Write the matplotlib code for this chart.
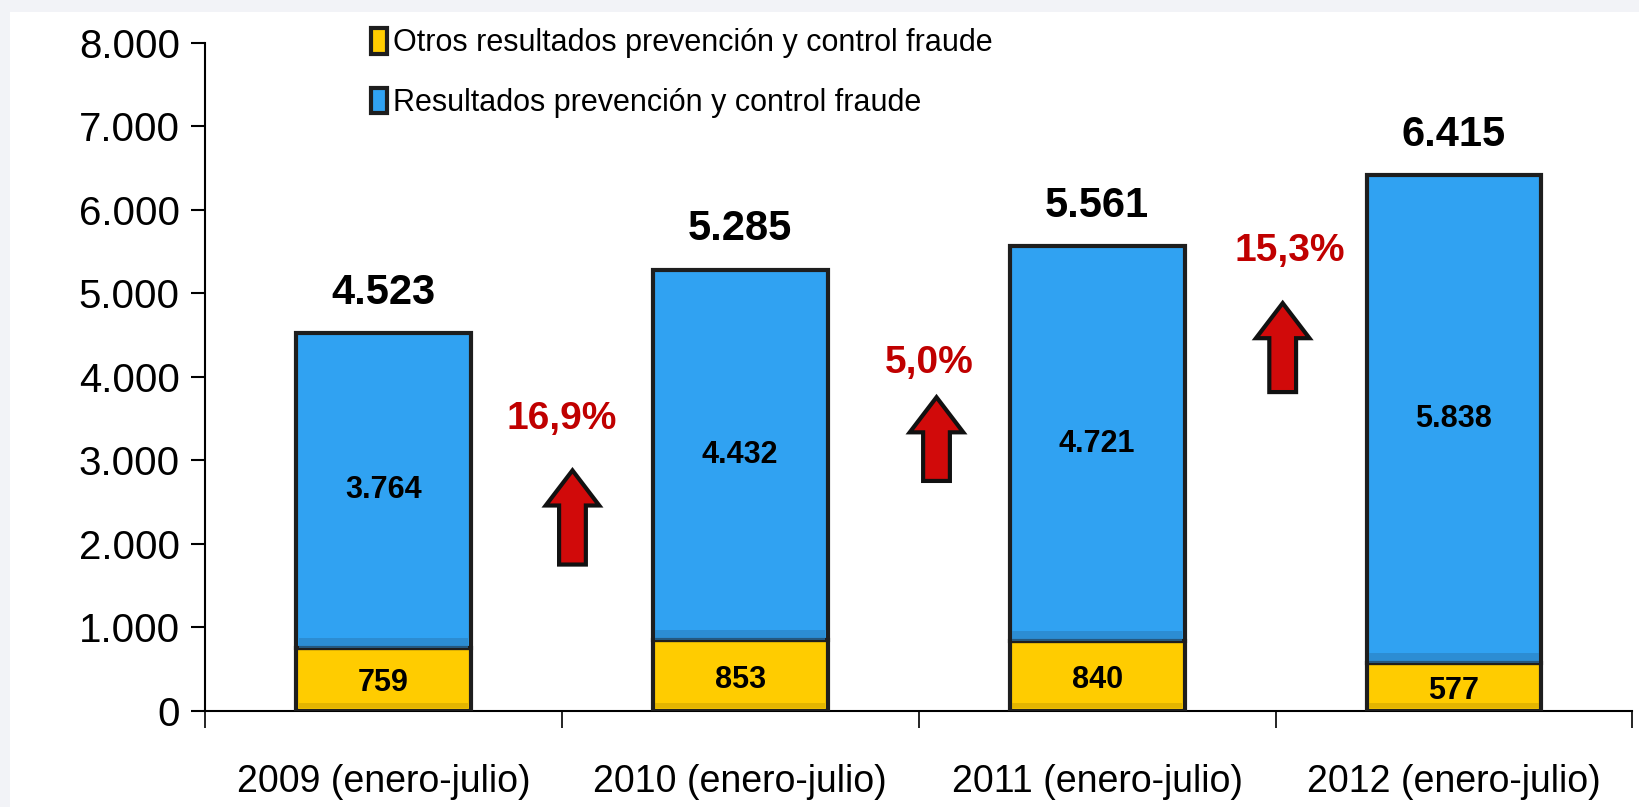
import numpy as np
import matplotlib
matplotlib.use("Agg")
import matplotlib.pyplot as plt
from matplotlib.patches import FancyArrow, Rectangle

plt.rcParams['font.family'] = ['Liberation Sans Narrow', 'Liberation Sans', 'DejaVu Sans']

# data
categories = ["2009 (enero-julio)", "2010 (enero-julio)", "2011 (enero-julio)", "2012 (enero-julio)"]
otros = [759, 853, 840, 577]
resultados = [3764, 4432, 4721, 5838]
totales = [4523, 5285, 5561, 6415]
crecimiento = ["16,9%", "5,0%", "15,3%"]
# arrow placement (x in category units, bottom / top in data units), label y
flecha_x = [0.53, 1.55, 2.52]
flecha_base = [1753, 2754, 3818]
flecha_tope = [2880, 3756, 4883]
etiqueta_x = [0.5, 1.53, 2.54]
etiqueta_y = [3500, 4170, 5510]

legend_labels = ["Otros resultados prevención y control fraude",
                 "Resultados prevención y control fraude"]


def miles(v):
    return f"{v:,}".replace(",", ".")


def main():
    fig = plt.figure(figsize=(16.39, 8.07), dpi=100)
    fig.patch.set_facecolor('#f2f3f7')
    fig.patches.append(Rectangle((0.006, 0), 0.994, 0.985, transform=fig.transFigure,
                                 facecolor='white', edgecolor='none', zorder=-10))

    ax = fig.add_axes([0.125, 0.119, 0.871, 0.828])
    ax.set_facecolor('none')
    ax.set_zorder(2)

    x = np.arange(len(categories))
    w = 0.49
    ax.bar(x, otros, w, color='#ffcc00', edgecolor='#1e1e1e', linewidth=3,
           label=legend_labels[0], zorder=3)
    ax.bar(x, resultados, w, bottom=otros, color='#30a2f2', edgecolor='#1e1e1e',
           linewidth=3, label=legend_labels[1], zorder=3)
    # darker band at the bottom of the segments (bevel look)
    ax.bar(x, [120] * 4, w * 0.97, bottom=otros, color='#2a7fbf', edgecolor='none',
           alpha=0.6, zorder=3.5)
    ax.bar(x, [60] * 4, w * 0.97, bottom=[30] * 4, color='#c9a000', edgecolor='none',
           alpha=0.5, zorder=3.5)

    for i in range(len(categories)):
        ax.text(x[i], otros[i] / 2 - 50, miles(otros[i]), ha='center', va='center',
                fontsize=22, fontweight='bold', zorder=4)
        ax.text(x[i], otros[i] + resultados[i] / 2, miles(resultados[i]), ha='center',
                va='center', fontsize=22, fontweight='bold', zorder=4)
        ax.annotate(miles(totales[i]), (x[i], totales[i]), xytext=(0, 29),
                    textcoords='offset points', ha='center', va='center',
                    fontsize=30, fontweight='bold')

    for i in range(len(crecimiento)):
        largo = flecha_tope[i] - flecha_base[i]
        ax.add_patch(FancyArrow(flecha_x[i], flecha_base[i], 0, largo, width=0.075,
                                head_width=0.15, head_length=420,
                                length_includes_head=True, facecolor='#d10a0a',
                                edgecolor='#111111', linewidth=3, zorder=3))
        ax.text(etiqueta_x[i], etiqueta_y[i], crecimiento[i], ha='center', va='center',
                fontsize=28, fontweight='bold', color='#c00000')

    ax.set_xlim(-0.5, 3.5)
    ax.set_ylim(0, 8000)
    ax.set_yticks(np.arange(0, 8001, 1000))
    ax.set_yticklabels([miles(v) for v in range(0, 8001, 1000)])
    ax.set_xticks(x)
    ax.set_xticklabels(categories)
    ax.set_xticks(np.arange(-0.5, 3.6, 1), minor=True)

    ax.spines['top'].set_visible(False)
    ax.spines['right'].set_visible(False)
    ax.spines['left'].set_linewidth(1.5)
    ax.spines['bottom'].set_linewidth(1.5)
    ax.tick_params(axis='y', labelsize=29, length=10, width=1.5, pad=8)
    ax.tick_params(axis='x', which='major', labelsize=27, length=0, pad=38)
    ax.tick_params(axis='x', which='minor', length=12, width=1.2)

    leg = ax.legend(handles=ax.containers[:2], labels=legend_labels,
                    loc='upper left', bbox_to_anchor=(0.108, 1.04), frameon=False,
                    fontsize=22, handlelength=0.5, handleheight=0.9, handletextpad=0.2,
                    labelspacing=0.95, borderaxespad=0)
    for h in leg.legend_handles:
        h.set_linewidth(3)
    leg.set_zorder(5)

    fig.savefig("out.png", dpi=100, facecolor=fig.get_facecolor())


main()
